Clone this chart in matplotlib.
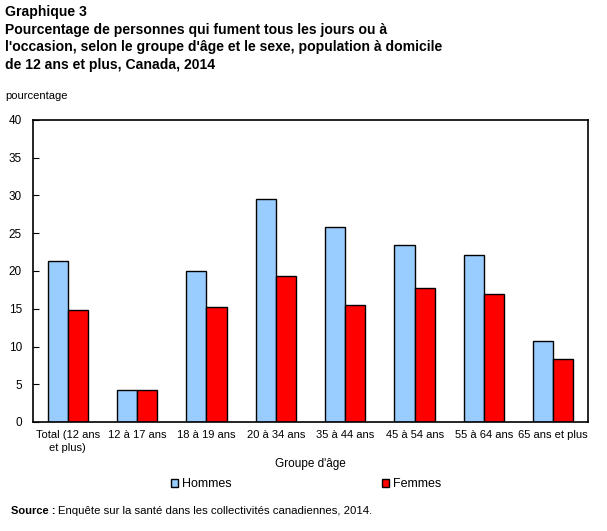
import matplotlib
matplotlib.use("Agg")
from matplotlib import pyplot as plt
import numpy as np

plt.rcParams['font.family'] = ['Liberation Sans', 'DejaVu Sans']

# data
groupes = ["Total (12 ans\net plus)", "12 à 17 ans", "18 à 19 ans", "20 à 34 ans",
           "35 à 44 ans", "45 à 54 ans", "55 à 64 ans", "65 ans et plus"]
hommes = [21.3, 4.3, 20.0, 29.5, 25.8, 23.5, 22.1, 10.7]
femmes = [14.8, 4.2, 15.2, 19.3, 15.5, 17.8, 17.0, 8.3]
y_ticks = [0, 5, 10, 15, 20, 25, 30, 35, 40]
titre = ["Graphique 3",
         "Pourcentage de personnes qui fument tous les jours ou à",
         "l'occasion, selon le groupe d'âge et le sexe, population à domicile",
         "de 12 ans et plus, Canada, 2014"]

fig = plt.figure(figsize=(6.07, 5.31), dpi=100)
ax = fig.add_axes([33 / 607, 1 - 422 / 531, 555 / 607, 302 / 531])

x = np.arange(len(groupes))
w = 0.29
b1 = ax.bar(x - w / 2, hommes, w, color="#99ccff", edgecolor="black", linewidth=1, label="Hommes")
b2 = ax.bar(x + w / 2, femmes, w, color="#ff0000", edgecolor="black", linewidth=1, label="Femmes")

ax.set_xlim(-0.5, len(groupes) - 0.5)
ax.set_ylim(0, 40)
ax.set_yticks(y_ticks)
ax.set_xticks(x)
ax.set_xticklabels(groupes, fontsize=8, linespacing=1.3)
ax.tick_params(axis="x", length=0, pad=6)
ax.tick_params(axis="y", direction="in", length=4, labelsize=8.5, pad=8)
for s in ax.spines.values():
    s.set_linewidth(1.2)
ax.set_xlabel("Groupe d'âge", fontsize=8.5, labelpad=4)

# title, one line at a time
for i, line in enumerate(titre):
    fig.text(5 / 607, 1 - (12 + 17.7 * i) / 531, line, fontsize=10.1,
             fontweight="bold", va="center")
fig.text(5 / 607, 1 - 96 / 531, "pourcentage", fontsize=8, va="center")

fig.legend(handles=[b1, b2], loc="center", bbox_to_anchor=(306 / 607, 1 - 484 / 531),
           ncol=2, frameon=False, fontsize=9, handlelength=0.6, handleheight=0.6,
           handletextpad=0.3, columnspacing=12)

fig.text(11 / 607, 1 - 511 / 531, "Source :", fontsize=8, fontweight="bold", va="center")
fig.text(58 / 607, 1 - 511 / 531, "Enquête sur la santé dans les collectivités canadiennes, 2014.",
         fontsize=8.2, va="center")

plt.savefig("out.png", dpi=100)
